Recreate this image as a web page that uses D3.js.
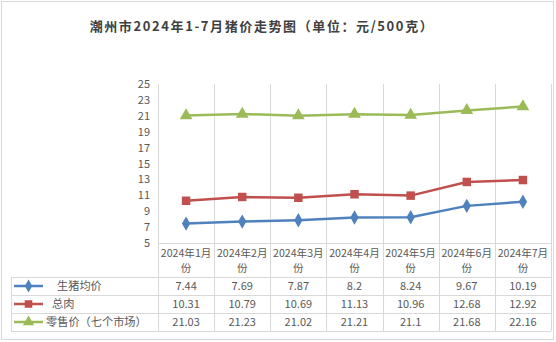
<!DOCTYPE html>
<html><head><meta charset="utf-8">
<script src="https://cdn.jsdelivr.net/npm/d3@7"></script>
<style>
html,body{margin:0;padding:0;background:#fff;}
svg{display:block;font-family:"Noto Sans CJK SC","Noto Sans",sans-serif;}
</style></head>
<body><svg id="c" width="556" height="342"></svg>
<script>
const title = "潮州市2024年1-7月猪价走势图（单位：元/500克）";
const categories = ["2024年1月份","2024年2月份","2024年3月份","2024年4月份","2024年5月份","2024年6月份","2024年7月份"];
const seriesNames = ["生猪均价","总肉","零售价（七个市场）"];
const hogPrice = [7.44,7.69,7.87,8.2,8.24,9.67,10.19];
const porkPrice = [10.31,10.79,10.69,11.13,10.96,12.68,12.92];
const retailPrice = [21.03,21.23,21.02,21.21,21.1,21.68,22.16];
const yTicks = [5,7,9,11,13,15,17,19,21,23,25];

const series = [
  {name: seriesNames[0], values: hogPrice, color:"#4F81BD", sym:d3.symbolDiamond, size:60, indent:11},
  {name: seriesNames[1], values: porkPrice, color:"#C0504D", sym:d3.symbolSquare, size:72, indent:6},
  {name: seriesNames[2], values: retailPrice, color:"#9BBB59", sym:d3.symbolTriangle, size:70, indent:0}
];

const svg = d3.select("#c");
const grid = "#d9d9d9", txt = "#595959";

// outer border
svg.append("rect").attr("x",1.5).attr("y",1.5).attr("width",552).attr("height",338)
  .attr("fill","#fff").attr("stroke","#d9d9d9").attr("stroke-width",1);

// title
svg.append("text").attr("x",262).attr("y",31).attr("text-anchor","middle")
  .attr("font-size",13).attr("font-weight","bold").attr("fill","#404040")
  .attr("letter-spacing","1.6px").text(title);

const x = d3.scaleBand().domain(categories).range([158,551]);
const y = d3.scaleLinear().domain([5,25]).range([243,84]);

// vertical gridlines through plot and table
const bounds = categories.map(c=>x(c)).concat([x.range()[1]]);
svg.append("g").selectAll("line").data(bounds).join("line")
  .attr("x1",d=>Math.round(d)+0.5).attr("x2",d=>Math.round(d)+0.5)
  .attr("y1",y(25)).attr("y2",331).attr("stroke",grid);

// table horizontal lines
const rowH = 18, headTop = 243, headBot = 277;
svg.append("line").attr("x1",158).attr("x2",551).attr("y1",headTop+0.5).attr("y2",headTop+0.5).attr("stroke",grid);
const rowYs = [headBot, headBot+rowH, headBot+2*rowH, headBot+3*rowH];
svg.append("g").selectAll("line").data(rowYs).join("line")
  .attr("x1",11).attr("x2",551).attr("y1",d=>d+0.5).attr("y2",d=>d+0.5).attr("stroke",grid);
svg.append("line").attr("x1",11.5).attr("x2",11.5).attr("y1",headBot).attr("y2",headBot+3*rowH).attr("stroke",grid);

// y axis
const yAxis = d3.axisLeft(y).tickValues(yTicks).tickSize(0).tickPadding(0);
const ga = svg.append("g").attr("transform","translate(150,0)").call(yAxis);
ga.select(".domain").remove();
ga.selectAll("text").attr("font-size",11).attr("fill",txt).attr("font-family","'Noto Sans CJK SC',sans-serif");

// category header (two lines, wrapped like the reference)
const hg = svg.append("g").attr("font-size",10.6).attr("fill",txt).attr("text-anchor","middle");
hg.selectAll("text.l1").data(categories).join("text").attr("class","l1")
  .attr("x",d=>x(d)+x.bandwidth()/2).attr("y",257).text(d=>d.slice(0,-1));
hg.selectAll("text.l2").data(categories).join("text").attr("class","l2")
  .attr("x",d=>x(d)+x.bandwidth()/2).attr("y",272).text(d=>d.slice(-1));

// lines and markers
const line = d3.line().x((d,i)=>x(categories[i])+x.bandwidth()/2).y(d=>y(d));
series.forEach((s,si)=>{
  svg.append("path").attr("d",line(s.values)).attr("fill","none")
    .attr("stroke",s.color).attr("stroke-width",2.5).attr("stroke-linejoin","round");
  svg.append("g").selectAll("path").data(s.values).join("path")
    .attr("d",d3.symbol().type(s.sym).size(s.size))
    .attr("transform",(d,i)=>`translate(${x(categories[i])+x.bandwidth()/2},${y(d)})`)
    .attr("fill",s.color);
  const cy = headBot + rowH*si + rowH/2;
  // legend key
  svg.append("line").attr("x1",14).attr("x2",43).attr("y1",cy).attr("y2",cy)
    .attr("stroke",s.color).attr("stroke-width",2.5);
  svg.append("path").attr("d",d3.symbol().type(s.sym).size(s.size*0.8))
    .attr("transform",`translate(28.5,${cy})`).attr("fill",s.color);
  svg.append("text").attr("x",46+s.indent).attr("y",cy+4).attr("font-size",11.2)
    .attr("fill",txt).text(s.name);
  svg.append("g").selectAll("text").data(s.values).join("text")
    .attr("x",(d,i)=>x(categories[i])+x.bandwidth()/2).attr("y",cy+4)
    .attr("text-anchor","middle").attr("font-size",11).attr("fill",txt).text(d=>d);
});
</script></body></html>
